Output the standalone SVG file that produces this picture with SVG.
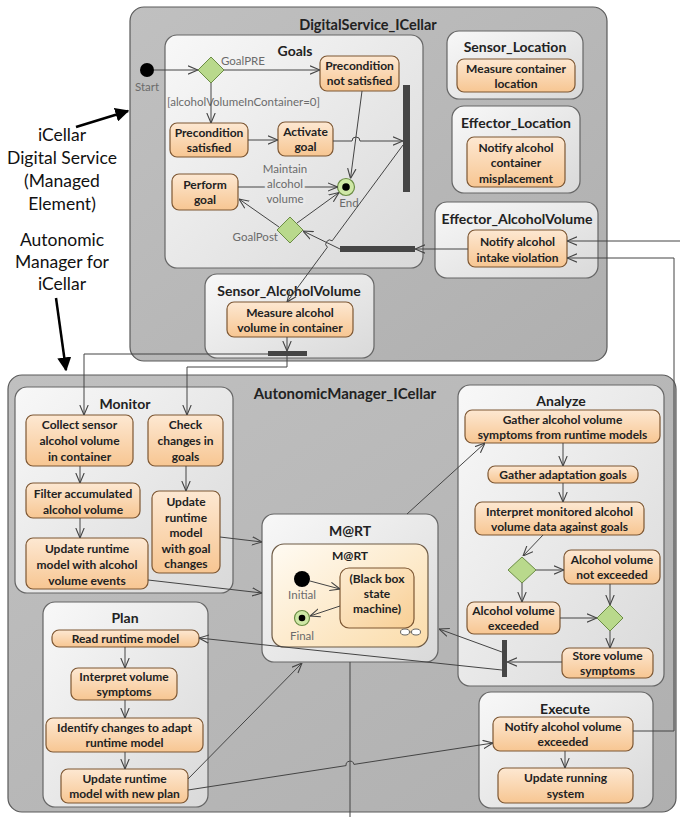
<svg xmlns="http://www.w3.org/2000/svg" width="680" height="817" viewBox="0 0 680 817">
<defs>
  <linearGradient id="gAct" x1="0" y1="0" x2="0" y2="1">
    <stop offset="0" stop-color="#fde8d2"/>
    <stop offset="1" stop-color="#f7c692"/>
  </linearGradient>
  <linearGradient id="gPane" x1="0" y1="0" x2="1" y2="1">
    <stop offset="0" stop-color="#f8f8f8"/>
    <stop offset="1" stop-color="#d9d9d9"/>
  </linearGradient>
  <linearGradient id="gOuter" x1="0" y1="0" x2="1" y2="1">
    <stop offset="0" stop-color="#c0c0c0"/>
    <stop offset="1" stop-color="#afafaf"/>
  </linearGradient>
  <linearGradient id="gState" x1="0" y1="0" x2="1" y2="1">
    <stop offset="0" stop-color="#fffbf3"/>
    <stop offset="1" stop-color="#fbdcaa"/>
  </linearGradient>
  <linearGradient id="gBlack" x1="0" y1="0" x2="1" y2="1">
    <stop offset="0" stop-color="#fdebd0"/>
    <stop offset="1" stop-color="#f8cf95"/>
  </linearGradient>
  <marker id="ah" viewBox="0 0 10 10" refX="10" refY="5" markerWidth="10" markerHeight="10" orient="auto" markerUnits="userSpaceOnUse">
    <path d="M0,0.8 L10,5 L0,9.2" fill="none" stroke="#444" stroke-width="1.1"/>
  </marker>
  <marker id="bold" viewBox="0 0 10 10" refX="9" refY="5" markerWidth="14" markerHeight="14" orient="auto" markerUnits="userSpaceOnUse">
    <path d="M0,0 L10,5 L0,10 Z" fill="#000"/>
  </marker>
</defs>
<style>
  .outer{fill:url(#gOuter);stroke:#5a5a5a;stroke-width:1.2}
  .pane{fill:url(#gPane);stroke:#666;stroke-width:1.2}
  .act{fill:url(#gAct);stroke:#7d5733;stroke-width:1.2}
  .t{font-family:Lato,"Open Sans",sans-serif;font-weight:bold;fill:#222;text-anchor:middle}
  .a{font-size:12px}
  .h{font-size:14px}
  .H{font-size:14.5px}
  .lbl{font-family:Lato,"Open Sans",sans-serif;font-size:11.5px;fill:#6b6b6b}
  .c{fill:none;stroke:#444;stroke-width:1}
  .arr{marker-end:url(#ah)}
  .bar{fill:#454545}
  .dia{fill:#b9d98c;stroke:#6b8c45;stroke-width:1}
  .note{font-family:Lato,"Open Sans",sans-serif;font-size:17.5px;fill:#111;text-anchor:middle}
  .halo{paint-order:stroke;stroke:#e9e9e9;stroke-width:5px;stroke-linejoin:round}
</style>

<rect width="680" height="817" fill="#fff"/>

<!-- annotations -->
<g id="annotations">
  <text class="note" x="62" y="141">iCellar</text>
  <text class="note" x="62" y="164">Digital Service</text>
  <text class="note" x="62" y="187">(Managed</text>
  <text class="note" x="62" y="210">Element)</text>
  <line x1="76" y1="127" x2="128" y2="111" stroke="#000" stroke-width="2.5" marker-end="url(#bold)"/>
  <text class="note" x="62" y="246">Autonomic</text>
  <text class="note" x="62" y="268">Manager for</text>
  <text class="note" x="62" y="290">iCellar</text>
  <line x1="56" y1="298" x2="66" y2="370" stroke="#000" stroke-width="2.5" marker-end="url(#bold)"/>
</g>

<!-- managed element -->
<g id="DigitalService_ICellar">
  <rect class="outer" x="130" y="7" width="477" height="354" rx="14"/>
  <text class="t H" x="368" y="30">DigitalService_ICellar</text>
</g>

<g id="Goals">
  <rect class="pane" x="165" y="35" width="258" height="233" rx="12"/>
  <text class="t h" x="295" y="56">Goals</text>
</g>
<g id="Start">
  <circle cx="147" cy="70" r="7" fill="#000"/>
  <text class="lbl" x="147" y="91" text-anchor="middle">Start</text>
</g>
<g id="GoalPRE">
  <polygon class="dia" points="211,57 224,70 211,83 198,70"/>
  <text class="lbl" x="221" y="65">GoalPRE</text>
</g>
<g id="PreconditionNotSatisfied">
  <rect class="act" x="320" y="56" width="79" height="35" rx="7"/>
  <text class="t a" x="359.5" y="70">Precondition</text>
  <text class="t a" x="359.5" y="85">not satisfied</text>
</g>
<text class="lbl" x="167" y="106">[alcoholVolumeInContainer=0]</text>
<g id="PreconditionSatisfied">
  <rect class="act" x="170" y="123" width="78" height="34" rx="7"/>
  <text class="t a" x="209" y="137">Precondition</text>
  <text class="t a" x="209" y="152">satisfied</text>
</g>
<g id="ActivateGoal">
  <rect class="act" x="278" y="122" width="55" height="34" rx="7"/>
  <text class="t a" x="305.5" y="136">Activate</text>
  <text class="t a" x="305.5" y="151">goal</text>
</g>
<g id="GoalsJoin">
  <rect class="bar" x="403" y="85" width="7" height="107"/>
</g>
<g id="PerformGoal">
  <rect class="act" x="172" y="174" width="66" height="36" rx="7"/>
  <text class="t a" x="205" y="189">Perform</text>
  <text class="t a" x="205" y="204">goal</text>
</g>
<g id="End">
  <circle cx="346" cy="187" r="8.5" fill="#cfe8a6" stroke="#6b8c45" stroke-width="1.2"/>
  <circle cx="346" cy="187" r="3.8" fill="#000"/>
  <text class="lbl" x="349" y="207" text-anchor="middle">End</text>
</g>
<g id="GoalPost">
  <polygon class="dia" points="290,217 303,230 290,243 277,230"/>
  <text class="lbl" x="278" y="241" text-anchor="end">GoalPost</text>
</g>
<g id="GoalsFork">
  <rect class="bar" x="340" y="246" width="75" height="6"/>
</g>

<g id="Sensor_Location">
  <rect class="pane" x="447" y="31" width="136" height="68" rx="12"/>
  <text class="t h" x="515" y="52">Sensor_Location</text>
  <rect class="act" x="457" y="59" width="118" height="33" rx="7"/>
  <text class="t a" x="516" y="73">Measure container</text>
  <text class="t a" x="516" y="88">location</text>
</g>
<g id="Effector_Location">
  <rect class="pane" x="452" y="106" width="128" height="87" rx="12"/>
  <text class="t h" x="516" y="128">Effector_Location</text>
  <rect class="act" x="467" y="137" width="98" height="50" rx="7"/>
  <text class="t a" x="516" y="152">Notify alcohol</text>
  <text class="t a" x="516" y="167">container</text>
  <text class="t a" x="516" y="183">misplacement</text>
</g>
<g id="Effector_AlcoholVolume">
  <rect class="pane" x="435" y="202" width="163" height="76" rx="12"/>
  <text class="t h" x="517" y="224">Effector_AlcoholVolume</text>
  <rect class="act" x="468" y="230" width="99" height="37" rx="7"/>
  <text class="t a" x="517.5" y="246">Notify alcohol</text>
  <text class="t a" x="517.5" y="262">intake violation</text>
</g>
<g id="Sensor_AlcoholVolume">
  <rect class="pane" x="205" y="274" width="169" height="84" rx="12"/>
  <text class="t h" x="289" y="296">Sensor_AlcoholVolume</text>
  <rect class="act" x="227" y="302" width="126" height="35" rx="7"/>
  <text class="t a" x="290" y="317">Measure alcohol</text>
  <text class="t a" x="290" y="332">volume in container</text>
  <rect class="bar" x="268" y="351" width="39" height="5"/>
</g>

<!-- autonomic manager -->
<g id="AutonomicManager_ICellar">
  <rect class="outer" x="8" y="375" width="668" height="437" rx="14"/>
  <text class="t" style="font-size:15px" x="345" y="399">AutonomicManager_ICellar</text>
</g>

<g id="Monitor">
  <rect class="pane" x="15" y="387" width="218" height="206" rx="12"/>
  <text class="t h" x="125" y="409">Monitor</text>
  <rect class="act" x="26" y="415" width="107" height="51" rx="7"/>
  <text class="t a" x="79.5" y="429">Collect sensor</text>
  <text class="t a" x="79.5" y="445">alcohol volume</text>
  <text class="t a" x="79.5" y="461">in container</text>
  <rect class="act" x="148" y="415" width="75" height="51" rx="7"/>
  <text class="t a" x="185.5" y="429">Check</text>
  <text class="t a" x="185.5" y="445">changes in</text>
  <text class="t a" x="185.5" y="461">goals</text>
  <rect class="act" x="26" y="483" width="114" height="35" rx="7"/>
  <text class="t a" x="83" y="498">Filter accumulated</text>
  <text class="t a" x="83" y="514">alcohol volume</text>
  <rect class="act" x="152" y="491" width="68" height="82" rx="7"/>
  <text class="t a" x="186" y="506">Update</text>
  <text class="t a" x="186" y="522">runtime</text>
  <text class="t a" x="186" y="537">model</text>
  <text class="t a" x="186" y="553">with goal</text>
  <text class="t a" x="186" y="568">changes</text>
  <rect class="act" x="26" y="538" width="122" height="51" rx="7"/>
  <text class="t a" x="87" y="553">Update runtime</text>
  <text class="t a" x="87" y="569">model with alcohol</text>
  <text class="t a" x="87" y="585">volume events</text>
</g>

<g id="MaRT">
  <rect class="pane" x="262" y="514" width="176" height="148" rx="12"/>
  <text class="t h" x="350" y="536">M@RT</text>
  <rect x="272" y="544" width="156" height="103" rx="12" fill="url(#gState)" stroke="#6d5a45" stroke-width="1.2"/>
  <text class="t" style="font-size:12px" x="350" y="560">M@RT</text>
  <circle cx="302" cy="579" r="8" fill="#000"/>
  <text class="lbl" x="302" y="599" text-anchor="middle">Initial</text>
  <circle cx="302" cy="618" r="7.5" fill="#cfe8a6" stroke="#6b8c45" stroke-width="1.2"/>
  <circle cx="302" cy="618" r="3.3" fill="#000"/>
  <text class="lbl" x="302" y="640" text-anchor="middle">Final</text>
  <rect x="340" y="568" width="74" height="60" rx="9" fill="url(#gBlack)" stroke="#7d5733" stroke-width="1.2"/>
  <text class="t a" x="377" y="583">(Black box</text>
  <text class="t a" x="377" y="598">state</text>
  <text class="t a" x="377" y="613">machine)</text>
  <ellipse cx="405" cy="632" rx="4.5" ry="3" fill="#fff" stroke="#555" stroke-width="0.9"/>
  <ellipse cx="416" cy="632" rx="4.5" ry="3" fill="#fff" stroke="#555" stroke-width="0.9"/>
  <line x1="409.5" y1="632" x2="411.5" y2="632" stroke="#555" stroke-width="0.9"/>
</g>

<g id="Analyze">
  <rect class="pane" x="458" y="385" width="206" height="301" rx="12"/>
  <text class="t h" x="561" y="406">Analyze</text>
  <rect class="act" x="465" y="410" width="195" height="33" rx="7"/>
  <text class="t a" x="562.5" y="424">Gather alcohol volume</text>
  <text class="t a" x="562.5" y="439">symptoms from runtime models</text>
  <rect class="act" x="488" y="466" width="150" height="17" rx="7"/>
  <text class="t a" x="563" y="479">Gather adaptation goals</text>
  <rect class="act" x="475" y="502" width="169" height="33" rx="7"/>
  <text class="t a" x="559.5" y="516">Interpret monitored alcohol</text>
  <text class="t a" x="559.5" y="531">volume data against goals</text>
  <polygon class="dia" points="522,557 536,570 522,583 508,570"/>
  <rect class="act" x="564" y="550" width="96" height="34" rx="7"/>
  <text class="t a" x="612" y="564">Alcohol volume</text>
  <text class="t a" x="612" y="579">not exceeded</text>
  <rect class="act" x="467" y="602" width="93" height="32" rx="7"/>
  <text class="t a" x="513.5" y="615">Alcohol volume</text>
  <text class="t a" x="513.5" y="630">exceeded</text>
  <polygon class="dia" points="610,605 623,618 610,631 597,618"/>
  <rect class="act" x="562" y="648" width="91" height="30" rx="7"/>
  <text class="t a" x="607.5" y="660">Store volume</text>
  <text class="t a" x="607.5" y="675">symptoms</text>
  <rect class="bar" x="502" y="640" width="5" height="37"/>
</g>

<g id="Plan">
  <rect class="pane" x="43" y="602" width="165" height="205" rx="12"/>
  <text class="t h" x="125" y="623">Plan</text>
  <rect class="act" x="52" y="630" width="147" height="17" rx="7"/>
  <text class="t a" x="125.5" y="643">Read runtime model</text>
  <rect class="act" x="71" y="668" width="106" height="32" rx="7"/>
  <text class="t a" x="124" y="681">Interpret volume</text>
  <text class="t a" x="124" y="696">symptoms</text>
  <rect class="act" x="46" y="718" width="157" height="34" rx="7"/>
  <text class="t a" x="124.5" y="732">Identify changes to adapt</text>
  <text class="t a" x="124.5" y="747">runtime model</text>
  <rect class="act" x="61" y="769" width="127" height="34" rx="7"/>
  <text class="t a" x="124.5" y="783">Update runtime</text>
  <text class="t a" x="124.5" y="798">model with new plan</text>
</g>

<g id="Execute">
  <rect class="pane" x="479" y="692" width="174" height="116" rx="12"/>
  <text class="t h" x="565" y="714">Execute</text>
  <rect class="act" x="493" y="717" width="140" height="34" rx="7"/>
  <text class="t a" x="563" y="731">Notify alcohol volume</text>
  <text class="t a" x="563" y="746">exceeded</text>
  <rect class="act" x="498" y="768" width="135" height="35" rx="7"/>
  <text class="t a" x="565.5" y="782">Update running</text>
  <text class="t a" x="565.5" y="798">system</text>
</g>

<!-- control flows -->
<g id="connectors">
  <path class="c arr" d="M154,70 H198"/>
  <path class="c arr" d="M224,70 H320"/>
  <path class="c arr" d="M211,83 V123"/>
  <path class="c arr" d="M248,140 H278"/>
  <path class="c arr" d="M333,141 H352 A4,4 0 0 1 360,141 H403"/>
  <path class="c arr" d="M362,91 L350.5,178.5"/>
  <path class="c arr" d="M238,187 H337.5"/>
  <path class="c arr" d="M297,223 L339,192.5"/>
  <path class="c arr" d="M279,227 L239,199"/>
  <path class="c arr" d="M340,249 L303,231"/>
  <path class="c arr" d="M468,249 H415"/>
  <path class="c arr" d="M403,145 L332.2,240.8 A4,4 0 0 0 327.4,247.2 L287,302"/>
  <path class="c arr" d="M287,337 V351"/>
  <path class="c arr" d="M268,354 H84 V415"/>
  <path class="c arr" d="M287,356 V367 H187 V415"/>
  <path class="c arr" d="M80,466 V483"/>
  <path class="c arr" d="M80,518 V538"/>
  <path class="c arr" d="M186,466 V491"/>
  <path class="c arr" d="M220,537 L262,542"/>
  <path class="c arr" d="M148,580 L262,593"/>
  <path class="c arr" d="M310,581 L340,589"/>
  <path class="c arr" d="M340,606 L310,616"/>
  <path class="c arr" d="M407,514 L485,443"/>
  <path class="c arr" d="M563,443 V466"/>
  <path class="c arr" d="M563,483 V502"/>
  <path class="c arr" d="M543,535 L523,556"/>
  <path class="c arr" d="M536,570 H564"/>
  <path class="c arr" d="M522,583 V602"/>
  <path class="c arr" d="M610,584 V605"/>
  <path class="c arr" d="M560,618 H597"/>
  <path class="c arr" d="M610,631 V648"/>
  <path class="c arr" d="M562,662 H507"/>
  <path class="c arr" d="M502,652 L439,629"/>
  <path class="c arr" d="M502,670 L199,638"/>
  <path class="c arr" d="M125,647 V668"/>
  <path class="c arr" d="M125,700 V718"/>
  <path class="c arr" d="M125,752 V769"/>
  <path class="c arr" d="M188,779 L302,663"/>
  <path class="c arr" d="M188,790 L346.05,765.6 A4,4 0 0 1 353.95,764.4 L493,743"/>
  <path class="c" d="M350,662 V817"/>
  <path class="c arr" d="M565,751 V768"/>
  <path class="c arr" d="M633,731 H674 V258 H567"/>
  <path class="c arr" d="M680,241 H567"/>
</g>
<text class="lbl halo" x="285" y="173" text-anchor="middle">Maintain</text>
<text class="lbl halo" x="285" y="188" text-anchor="middle">alcohol</text>
<text class="lbl halo" x="285" y="203" text-anchor="middle">volume</text>
</svg>
